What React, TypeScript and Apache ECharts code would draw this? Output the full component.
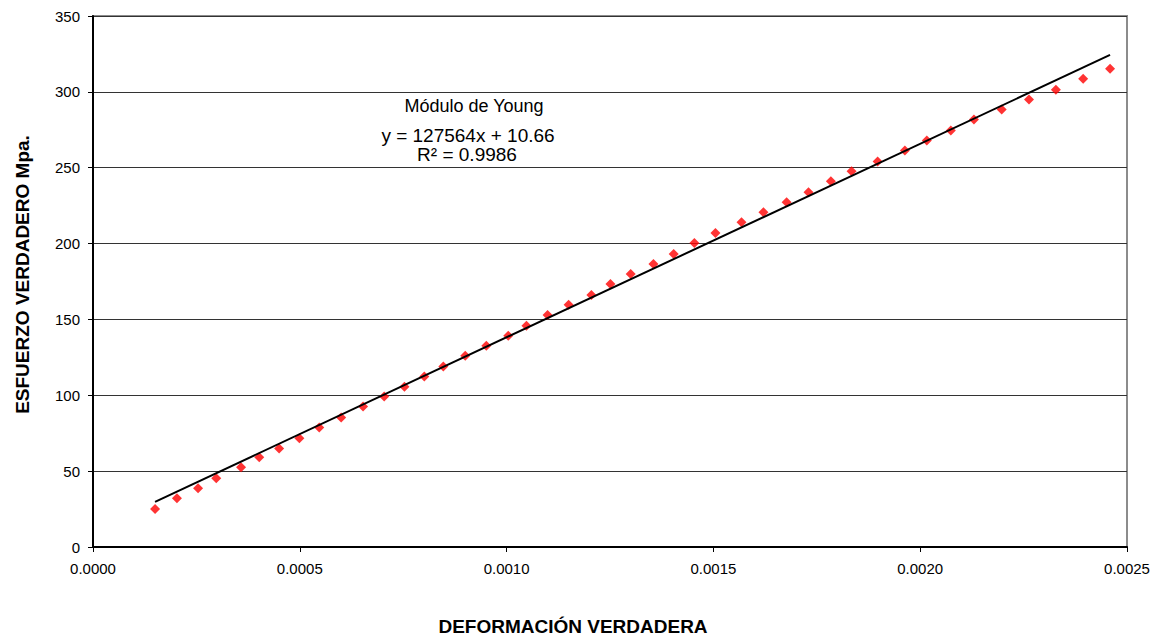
import React, { useEffect, useRef } from "react";
import * as echarts from "echarts";

const strain: number[] = [
  0.00015, 0.000203, 0.000254, 0.000298, 0.000358, 0.000402, 0.00045, 0.000499,
  0.000547, 0.0006, 0.000653, 0.000704, 0.000753, 0.000801, 0.000847, 0.0009,
  0.000951, 0.001004, 0.001048, 0.001099, 0.00115, 0.001205, 0.001251, 0.0013,
  0.001355, 0.001404, 0.001454, 0.001505, 0.001568, 0.001621, 0.001677, 0.00173,
  0.001784, 0.001834, 0.001897, 0.001963, 0.002016, 0.002074, 0.00213, 0.002197,
  0.002263, 0.002328, 0.002394, 0.002459,
];
const stress: number[] = [
  25, 32.2, 38.7, 45.3, 52.5, 59.1, 65, 71.6, 78.8, 85.4, 92.6, 99.2, 105.7, 112.3,
  118.9, 126.1, 132.6, 139.2, 145.8, 153, 159.6, 166.1, 173.4, 179.9, 186.5, 193.1,
  200.3, 206.9, 214.1, 220.7, 227.2, 233.8, 241, 247.6, 254.1, 261.4, 267.9, 274.5,
  281.7, 288.3, 294.9, 301.4, 308.7, 315.2,
];
const slope = 127564;
const intercept = 10.66;
const annotationLines: string[] = [
  "Módulo de Young",
  "y = 127564x + 10.66",
  "R² = 0.9986",
];
const xTitle = "DEFORMACIÓN VERDADERA";
const yTitle = "ESFUERZO VERDADERO Mpa.";

const FONT = "'Liberation Sans', Arial, sans-serif";

export default function App() {
  const ref = useRef<HTMLDivElement>(null);
  useEffect(() => {
    if (!ref.current) return;
    const chart = echarts.init(ref.current, null, { renderer: "svg" });
    const points = strain.map((x, i) => [x, stress[i]]);
    const x0 = strain[0];
    const x1 = strain[strain.length - 1];
    const trend = [
      [x0, slope * x0 + intercept],
      [x1, slope * x1 + intercept],
    ];
    const annot = (text: string, x: number, y: number, size: number) => ({
      type: "text",
      x,
      y,
      style: {
        text,
        fontFamily: FONT,
        fontSize: size,
        fill: "#000",
        align: "center",
        verticalAlign: "middle",
      },
    });
    chart.setOption({
      animation: false,
      backgroundColor: "#ffffff",
      textStyle: { fontFamily: FONT },
      grid: {
        left: 93,
        right: 27,
        top: 16,
        bottom: 91,
        show: true,
        borderColor: "#8c8c8c",
        borderWidth: 2,
      },
      xAxis: {
        type: "value",
        min: 0,
        max: 0.0025,
        interval: 0.0005,
        name: xTitle,
        nameLocation: "middle",
        nameGap: 70,
        nameTextStyle: {
          fontFamily: FONT,
          fontWeight: "bold",
          fontSize: 19,
          color: "#000",
          padding: [0, 74, 0, 0],
        },
        axisLine: { show: true, onZero: false, lineStyle: { color: "#000", width: 2 } },
        axisTick: { show: true, length: 5, lineStyle: { color: "#000", width: 1 } },
        axisLabel: {
          margin: 14,
          fontSize: 15,
          color: "#000",
          fontFamily: FONT,
          formatter: (v: number) => v.toFixed(4),
        },
        splitLine: { show: false },
      },
      yAxis: {
        type: "value",
        min: 0,
        max: 350,
        interval: 50,
        name: yTitle,
        nameLocation: "middle",
        nameGap: 61,
        nameTextStyle: {
          fontFamily: FONT,
          fontWeight: "bold",
          fontSize: 19,
          color: "#000",
          padding: [0, 0, 0, 14],
        },
        axisLine: { show: true, onZero: false, lineStyle: { color: "#000", width: 2 } },
        axisTick: { show: true, length: 5, lineStyle: { color: "#000", width: 1 } },
        axisLabel: { margin: 13, fontSize: 15, color: "#000", fontFamily: FONT },
        splitLine: { show: true, lineStyle: { color: "#333", width: 1 } },
      },
      series: [
        {
          type: "scatter",
          data: points,
          symbol: "diamond",
          symbolSize: 10,
          itemStyle: { color: "#ff0000" },
          z: 3,
        },
        {
          type: "line",
          data: trend,
          symbol: "none",
          lineStyle: { color: "#000", width: 2 },
          z: 4,
        },
      ],
      graphic: [
        annot(annotationLines[0], 474, 106, 18),
        annot(annotationLines[1], 468, 135, 19),
        annot(annotationLines[2], 467, 154, 19),
      ],
    });
    return () => chart.dispose();
  }, []);
  return (
    <div
      ref={ref}
      style={{ position: "fixed", left: 0, top: 0, width: 1154, height: 641, background: "#fff" }}
    />
  );
}
